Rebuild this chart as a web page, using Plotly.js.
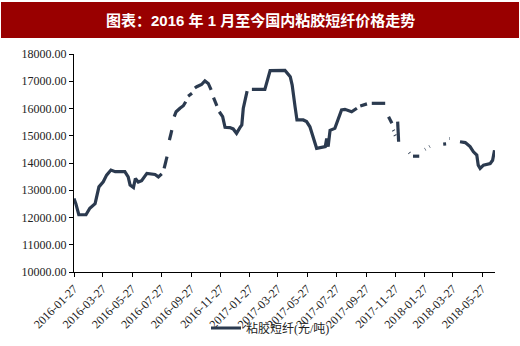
<!DOCTYPE html>
<html><head><meta charset="utf-8">
<script src="https://cdn.plot.ly/plotly-3.0.1.min.js"></script>
<style>html,body{margin:0;padding:0;background:#fff;}#chart{width:520px;height:346px;}</style>
</head><body><div id="chart"></div>
<script>
var dates = [
"2016-01-27","2016-01-31","2016-02-06","2016-02-21","2016-02-29","2016-03-11","2016-03-19","2016-03-28","2016-04-04","2016-04-13",
"2016-04-22","2016-05-12","2016-05-19","2016-05-23","2016-05-30","2016-06-03","2016-06-09","2016-06-16","2016-06-27","2016-07-14",
"2016-07-21","2016-07-28","2016-07-30","2016-08-02","2016-08-08","2016-08-10","2016-08-13","2016-08-18","2016-08-20","2016-08-23",
"2016-08-27","2016-09-04","2016-09-11","2016-09-16","2016-09-18","2016-09-21","2016-09-29","2016-10-02","2016-10-05","2016-10-09",
"2016-10-19","2016-10-26","2016-11-02","2016-11-08","2016-11-10","2016-11-13","2016-11-20","2016-11-22","2016-11-25","2016-12-02",
"2016-12-07","2016-12-17","2016-12-24","2016-12-31","2017-01-07","2017-01-11","2017-01-14","2017-01-22","2017-01-26","2017-02-01",
"2017-02-28","2017-03-11","2017-04-11","2017-04-22","2017-04-26","2017-05-02","2017-05-06","2017-05-19","2017-05-26","2017-06-02",
"2017-06-09","2017-06-16","2017-07-04","2017-07-07","2017-07-10","2017-07-14","2017-07-24","2017-07-31","2017-08-07","2017-08-14",
"2017-08-28","2017-09-08","2017-09-11","2017-09-15","2017-09-29","2017-10-03","2017-10-09","2017-11-06","2017-11-09","2017-11-13",
"2017-11-20","2017-11-21","2017-11-23","2017-11-24","2017-11-25","2017-11-26","2017-11-27","2017-11-29","2017-12-02","2017-12-04",
"2017-12-14","2017-12-26","2017-12-27","2017-12-30","2018-01-03","2018-01-16","2018-01-22","2018-01-28","2018-01-29","2018-02-02",
"2018-02-06","2018-02-07","2018-02-20","2018-03-07","2018-03-13","2018-03-16","2018-03-20","2018-03-21","2018-04-01","2018-04-11",
"2018-04-22","2018-05-02","2018-05-09","2018-05-16","2018-05-19","2018-05-23","2018-05-30","2018-06-13","2018-06-18","2018-06-22"
];
var prices = [
12700,12500,12100,12100,12340,12510,13125,13310,13555,13740,
13680,13680,13490,13190,13100,13430,13300,13350,13620,13580,
13490,13600,null,13800,14230,null,14840,15210,null,15700,
15880,16010,16100,16250,null,16450,16560,null,16750,16800,
16880,17010,16920,16680,null,16400,16100,null,15880,15700,
15310,15300,15250,15090,15300,15400,16000,16640,null,16700,
16700,17390,17400,17170,16860,16070,15580,15580,15520,15330,
14900,14540,14600,14900,14600,15200,15270,15640,15950,15970,
15880,16010,null,16090,16170,null,16190,16190,null,15700,
15460,null,15210,15180,null,15030,15000,null,15520,14780,
null,14380,14360,null,14250,14250,null,14500,14510,null,
14600,14610,null,14690,14700,null,14900,14900,null,14780,
14750,14600,14410,14290,13920,13800,13920,13980,14100,14470
];
var tickDates = ["2016-01-27","2016-03-27","2016-05-27","2016-07-27","2016-09-27","2016-11-27","2017-01-27","2017-03-27","2017-05-27","2017-07-27","2017-09-27","2017-11-27","2018-01-27","2018-03-27","2018-05-27"];
var yTicks = [10000,11000,12000,13000,14000,15000,16000,17000,18000];
var seriesName = "粘胶短纤(元/吨)";
var titleText = "图表：2016 年 1 月至今国内粘胶短纤价格走势";

var trace = {
  x: dates, y: prices, type: "scatter", mode: "lines", name: seriesName,
  line: {color: "#2B3A4F", width: 3.2}, connectgaps: false, hoverinfo: "skip"
};
var layout = {
  width: 520, height: 346,
  margin: {l: 74, r: 25, t: 54, b: 74, pad: 0},
  paper_bgcolor: "#fff", plot_bgcolor: "#fff",
  font: {family: "Liberation Serif, Noto Sans CJK SC, serif", size: 12, color: "#222"},
  showlegend: true,
  legend: {orientation: "h", xref: "container", yref: "container", x: 206/520, xanchor: "left",
    y: (346-328)/346, yanchor: "middle",
    font: {family: "Liberation Serif, Noto Sans CJK SC, serif", size: 12, color: "#222"}, bgcolor: "rgba(0,0,0,0)"},
  xaxis: {
    type: "date", range: ["2016-01-27", "2018-06-23"],
    tickvals: tickDates, ticktext: tickDates, tickangle: -45,
    showgrid: false, zeroline: false, showline: true, linecolor: "#000", linewidth: 1,
    ticks: "outside", ticklen: 4, tickcolor: "#000", automargin: false,
    tickfont: {family: "Liberation Serif, serif", size: 12, color: "#222"}
  },
  yaxis: {
    range: [10000, 18000], tickvals: yTicks, tickformat: ".2f",
    showgrid: false, zeroline: false, showline: true, linecolor: "#000", linewidth: 1,
    ticks: "outside", ticklen: 4, tickcolor: "#000", automargin: false,
    tickfont: {family: "Liberation Serif, serif", size: 12, color: "#222"}
  },
  shapes: [{type: "rect", xref: "paper", yref: "paper",
    x0: -0.1734, x1: 1.057, y0: 1.073, y1: 1.2385,
    fillcolor: "#990000", line: {width: 0}, layer: "above"}],
  annotations: [{text: "<b>" + titleText + "</b>", xref: "paper", yref: "paper",
    x: (260-74)/421, y: (272-20)/218, xanchor: "center", yanchor: "middle", showarrow: false,
    font: {family: "Liberation Sans, Noto Sans CJK SC, sans-serif", size: 15, color: "#fff"}}]
};
Plotly.newPlot("chart", [trace], layout, {displayModeBar: false, staticPlot: true});
</script></body></html>
